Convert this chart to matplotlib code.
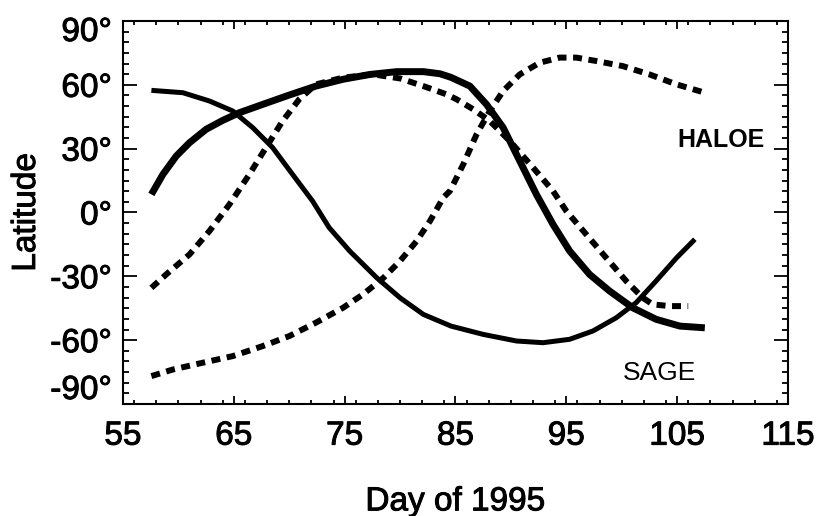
# Широта точек наблюдения HALOE и SAGE в феврале - апреле 1995 года

import matplotlib.pyplot as plt
import matplotlib.transforms as mtransforms
import matplotlib.patheffects as pe
from matplotlib.ticker import MultipleLocator

plt.rcParams['font.family'] = ['Liberation Sans', 'DejaVu Sans']

# толстая сплошная кривая
a_day = [57.56, 58.6, 59.8, 61.0, 62.5, 64.0, 65.5, 67.6, 70.0, 72.4, 74.85, 77.3, 79.7, 82.1,
         83.6, 84.6, 86.3, 87.8, 89.3, 90.8, 92.3, 93.8, 95.3, 97.1, 98.9, 101.0, 103.1,
         105.25, 107.5]
a_lat = [8.5, 17.9, 26.5, 32.8, 39.1, 43.3, 46.9, 50.8, 55.2, 59.4, 62.6, 64.9, 66.2, 66.2,
         65.2, 63.5, 59.4, 50.8, 39.9, 24.2, 8.5, -5.6, -18.1, -29.1, -36.9, -44.8, -50.2,
         -53.4, -54.2]

# тонкая сплошная кривая
b_day = [57.56, 60.4, 62.8, 64.9, 66.7, 68.5, 70.3, 72.1, 73.6, 75.45, 77.9, 80.0, 82.1,
         84.6, 87.5, 90.5, 92.9, 95.3, 97.4, 99.5, 101.3, 103.1, 104.95, 106.6]
b_lat = [57.4, 56.3, 52.4, 47.7, 39.9, 30.5, 17.9, 5.4, -7.1, -18.1, -30.7, -40.1, -47.9,
         -53.4, -57.3, -60.4, -61.2, -59.6, -55.7, -49.5, -42.4, -32.2, -21.3, -12.6]

# пунктир, заканчивается около -44
c_day = [57.56, 58.9, 61.0, 62.8, 64.6, 66.4, 67.9, 69.4, 70.9, 72.4, 74.85, 77.6, 80.0,
         82.1, 84.2, 85.1, 86.6, 88.1, 89.9, 92.0, 93.8, 95.0, 96.8, 98.6, 100.4, 101.9,
         102.8, 104.35, 106.0]
c_lat = [-35.4, -29.1, -19.7, -8.7, 3.8, 17.9, 30.5, 43.0, 53.2, 60.2, 63.4, 64.9, 63.0,
         59.4, 55.5, 53.2, 48.5, 43.0, 33.6, 21.1, 10.1, 0.7, -10.3, -21.3, -32.2, -40.1,
         -43.2, -44.0, -44.0]

# пунктир с максимумом около 95 дня
d_day = [57.56, 59.5, 62.2, 64.9, 67.6, 70.0, 72.4, 74.85, 76.65, 78.5, 80.0, 81.5, 82.7,
         83.9, 84.5, 85.7, 86.9, 88.1, 89.3, 90.8, 92.6, 94.4, 95.9, 97.7, 100.1, 102.5,
         104.95, 107.5]
d_lat = [-76.9, -73.8, -70.6, -67.5, -62.8, -58.1, -51.8, -44.8, -38.5, -30.7, -22.8, -13.4,
         -4.0, 7.0, 10.1, 22.6, 36.7, 47.7, 57.1, 64.9, 70.4, 72.8, 72.8, 71.2, 68.8, 64.9,
         60.2, 56.3]

x_ticks = [55, 65, 75, 85, 95, 105, 115]
y_ticks = [-90, -60, -30, 0, 30, 60, 90]
y_labels = [f'{v}°' for v in y_ticks]

fig = plt.figure(figsize=(8.19, 5.16), dpi=100)
ax = fig.add_axes([0.1502, 0.2171, 0.8119, 0.7422])

ax.plot(a_day, a_lat, color='black', lw=5.0, solid_capstyle='butt', solid_joinstyle='round')
ax.plot(b_day, b_lat, color='black', lw=3.6, solid_capstyle='butt', solid_joinstyle='round')
ax.plot(c_day, c_lat, color='black', lw=4.3, dashes=(1.5, 1.1), dash_capstyle='butt')
ax.plot(d_day, d_lat, color='black', lw=4.3, dashes=(1.5, 1.1), dash_capstyle='butt')

ax.text(112.9, 34, 'HALOE', fontsize=18, fontweight='bold', ha='right', va='center')
ax.text(103.4, -75.5, 'SAGE', fontsize=19, ha='center', va='center')

ax.set_xlim(55, 115)
ax.set_ylim(-90, 90)
ax.set_xticks(x_ticks)
ax.set_yticks(y_ticks)
ax.set_yticklabels(y_labels)
ax.xaxis.set_minor_locator(MultipleLocator(2))
ax.yaxis.set_minor_locator(MultipleLocator(5))

ax.tick_params(axis='both', which='both', direction='in', top=True, right=True,
               width=1.3, labelsize=24)
ax.tick_params(axis='x', which='major', length=6, pad=12)
ax.tick_params(axis='x', which='minor', length=3)
ax.tick_params(axis='y', which='major', length=10, pad=8)
ax.tick_params(axis='y', which='minor', length=4.5)
for s in ax.spines.values():
    s.set_linewidth(1.5)

# крайние подписи по y сдвинуты внутрь
lbls = ax.get_yticklabels()
lbls[0].set_transform(lbls[0].get_transform() + mtransforms.ScaledTranslation(0, 17 / 100, fig.dpi_scale_trans))
lbls[-1].set_transform(lbls[-1].get_transform() + mtransforms.ScaledTranslation(0, -8 / 100, fig.dpi_scale_trans))

ax.set_xlabel('Day of 1995', fontsize=24, labelpad=25)
ax.set_ylabel('Latitude', fontsize=24, labelpad=6)

# шрифт чуть жирнее обычного
heavy = [pe.withStroke(linewidth=0.7, foreground='black')]
for t in ax.get_xticklabels() + ax.get_yticklabels() + [ax.xaxis.label, ax.yaxis.label]:
    t.set_path_effects(heavy)

fig.savefig('out.png', dpi=100)
